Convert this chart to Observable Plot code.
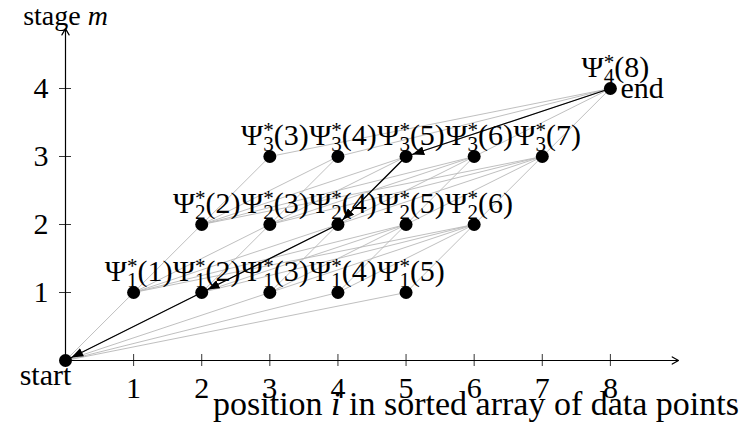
<!DOCTYPE html>
<html><head><meta charset="utf-8">
<script src="https://cdn.jsdelivr.net/npm/d3@7"></script>
<script src="https://cdn.jsdelivr.net/npm/@observablehq/plot@0.6"></script>
<style>html,body{margin:0;padding:0;background:#fff}</style>
</head><body><div id="chart"></div>
<script>
// ---- data ----
const xTicks = [1, 2, 3, 4, 5, 6, 7, 8];
const yTicks = [1, 2, 3, 4];
const startPositions = [0];          // stage 0: start
const stage1 = [1, 2, 3, 4, 5];
const stage2 = [2, 3, 4, 5, 6];
const stage3 = [3, 4, 5, 6, 7];
const endPositions = [8];            // stage 4: end
const optimalPath = [[8, 4], [5, 3], [4, 2], [2, 1], [0, 0]]; // [i, m], backtracked
const xLabel = "position i in sorted array of data points";
const yLabel = "stage m";

// ---- derived tables ----
const layers = [startPositions, stage1, stage2, stage3, endPositions];
const nodes = layers.flatMap((pos, m) => pos.map(i => ({i, m})));
const edges = [];
for (let m = 1; m < layers.length; m++)
  for (const j of layers[m - 1])
    for (const i of layers[m])
      if (i > j) edges.push({i1: j, m1: m - 1, i2: i, m2: m});
const pathEdges = optimalPath.slice(1).map((p, k) => ({
  i1: optimalPath[k][0], m1: optimalPath[k][1], i2: p[0], m2: p[1]
}));
const labelled = nodes.filter(d => d.m > 0);

const plot = Plot.plot({
  width: 749, height: 427,
  marginLeft: 65, marginRight: 71, marginTop: 20, marginBottom: 67,
  x: {domain: [0, 9], axis: null},
  y: {domain: [0, 5], axis: null},
  style: {fontFamily: "'Liberation Serif', serif", fontSize: "30px", background: "white", color: "black", overflow: "visible"},
  marks: [
    Plot.link(edges, {x1: "i1", y1: "m1", x2: "i2", y2: "m2", stroke: "#b8b8b8", strokeWidth: 0.9}),
    Plot.arrow([{a: 0, b: 0, c: 9, d: 0}], {x1: "a", y1: "b", x2: "c", y2: "d", stroke: "black", strokeWidth: 1.2, headLength: 9}),
    Plot.arrow([{a: 0, b: 0, c: 0, d: 4.88}], {x1: "a", y1: "b", x2: "c", y2: "d", stroke: "black", strokeWidth: 1.2, headLength: 9}),
    Plot.axisX(xTicks, {anchor: "bottom", tickSize: 12, dy: -6, tickPadding: 10, label: null, strokeWidth: 0.8, tickFormat: d => String(d)}),
    Plot.axisY(yTicks, {anchor: "left", tickSize: 12, dx: 6, tickPadding: 11, label: null, strokeWidth: 0.8, tickFormat: d => String(d)}),
    Plot.link(pathEdges, {x1: "i1", y1: "m1", x2: "i2", y2: "m2", stroke: "black", strokeWidth: 1.3, ariaDescription: "optimal path"}),
    Plot.dot(nodes, {x: "i", y: "m", r: 6.5, fill: "black"}),
    Plot.text(labelled, {x: "i", y: "m", text: d => `Ψ*${d.m}(${d.i})`, lineAnchor: "bottom", dx: 5, dy: -12}),
    Plot.text(["start"], {x: 0, y: 0, dx: -20, dy: 15}),
    Plot.text(["end"], {x: 8, y: 4, textAnchor: "start", dx: 10}),
    Plot.text([yLabel], {x: 0, frameAnchor: "top", lineAnchor: "middle", dy: -4, fontSize: 28}),
    Plot.text([xLabel], {frameAnchor: "bottom", lineAnchor: "middle", dx: 104, dy: 44, fontSize: 34})
  ]
});

const svg = d3.select(plot);
svg.selectAll("text").each(function () {
  const t = this.textContent;
  const sel = d3.select(this);
  const m = t.match(/^Ψ\*(\d+)\((\d+)\)$/);
  if (m) {
    sel.text(null);
    sel.append("tspan").text("Ψ");
    sel.append("tspan").attr("font-size", 21).attr("dy", -8).text("*");
    sel.append("tspan").attr("font-size", 21).attr("dx", -10.5).attr("dy", 14).text(m[1]);
    sel.append("tspan").attr("dy", -6).text(`(${m[2]})`);
  } else if (t === yLabel) {
    sel.text(null);
    sel.append("tspan").text("stage ");
    sel.append("tspan").attr("font-style", "italic").text("m");
  } else if (t === xLabel) {
    sel.text(null);
    sel.append("tspan").text("position ");
    sel.append("tspan").attr("font-style", "italic").text("i");
    sel.append("tspan").text(" in sorted array of data points");
  }
});

const defs = svg.insert("defs", ":first-child");
defs.append("marker").attr("id", "tri")
  .attr("viewBox", "0 0 10 10").attr("refX", 15.4).attr("refY", 5)
  .attr("markerWidth", 12).attr("markerHeight", 9)
  .attr("markerUnits", "userSpaceOnUse").attr("orient", "auto")
  .attr("preserveAspectRatio", "none")
  .append("path").attr("d", "M0,0L10,5L0,10z").attr("fill", "black");
svg.selectAll('g[aria-label="link"]')
  .filter(function () { return this.getAttribute("aria-description") === "optimal path" || this.getAttribute("stroke") === "black"; })
  .selectAll("path").attr("marker-end", "url(#tri)");

document.getElementById("chart").append(plot);
</script>
</body></html>
